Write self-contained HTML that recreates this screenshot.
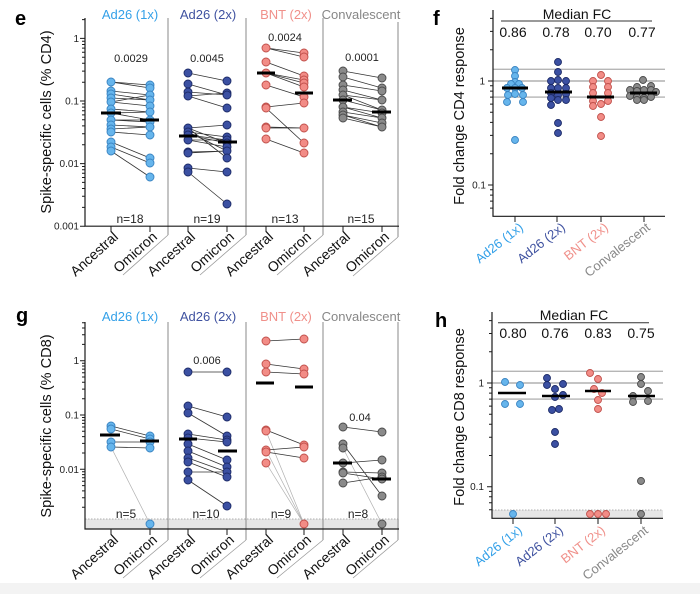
<!DOCTYPE html>
<html><head><meta charset="utf-8"><style>
html,body{margin:0;padding:0;background:#fff;}
svg{display:block;font-family:"Liberation Sans",Arial,sans-serif;}
.ax{stroke:#1a1a1a;stroke-width:1.2;fill:none;}
.tk{stroke:#1a1a1a;stroke-width:1;fill:none;}
.sep{stroke:#8a8a8a;stroke-width:1;fill:none;}
.dg{stroke:#9a9a9a;stroke-width:0.8;fill:none;}
.ln{stroke:#333;stroke-width:0.8;fill:none;}
.lg{stroke:#b0b0b0;stroke-width:0.7;fill:none;}
.md{stroke:#000;stroke-width:3;}
.gl{stroke:#8a8a8a;stroke-width:0.9;}
.lb circle{fill:#66b5ec;stroke:#3a84c2;stroke-width:0.9;}
.db circle{fill:#3b50a2;stroke:#1d2b68;stroke-width:0.9;}
.sa circle{fill:#f28c86;stroke:#c0504b;stroke-width:0.9;}
.gr circle{fill:#8a8a8a;stroke:#4a4a4a;stroke-width:0.9;}
.t10{font-size:10px;fill:#222;}
.t11{font-size:11px;fill:#222;}
.t12{font-size:12px;fill:#222;}
.t13{font-size:13px;}
.t14{font-size:14px;fill:#111;}
.yl{font-size:14.6px;fill:#111;}
.pl{font-size:20px;font-weight:bold;fill:#000;}
</style></head><body>
<svg width="700" height="594" viewBox="0 0 700 594" xmlns="http://www.w3.org/2000/svg">
<rect x="0" y="0" width="700" height="594" fill="#fff"/>
<rect x="0" y="583" width="700" height="11" fill="#f3f3f3"/>

<!-- ================= PANEL E ================= -->
<text class="pl" x="15" y="25">e</text>
<text class="yl" transform="translate(51,122) rotate(-90)" text-anchor="middle">Spike-specific cells (% CD4)</text>
<!-- headers -->
<text class="t13" x="130" y="19" text-anchor="middle" fill="#33a0e8">Ad26 (1x)</text>
<text class="t13" x="208" y="19" text-anchor="middle" fill="#3f52a0">Ad26 (2x)</text>
<text class="t13" x="286" y="19" text-anchor="middle" fill="#f0908a">BNT (2x)</text>
<text class="t13" x="361" y="19" text-anchor="middle" fill="#878787">Convalescent</text>
<!-- separators -->
<path class="sep" d="M168,18V235 M246,18V235 M323,18V235 M398,22V237"/>
<path class="dg" d="M168,235L123,275 M246,235L200,275 M323,235L277,275 M398,237L353,276"/>
<!-- axes -->
<path class="ax" d="M85,18V226.2H399"/>
<path class="tk" d="M80,38.4H85 M80,101H85 M80,163.6H85 M80,226.2H85
M82,19.6H85
M82,82.2H85 M82,71.1H85 M82,63.3H85 M82,57.2H85 M82,52.3H85 M82,48.1H85 M82,44.5H85 M82,41.3H85
M82,144.8H85 M82,133.7H85 M82,125.9H85 M82,119.8H85 M82,114.9H85 M82,110.7H85 M82,107.1H85 M82,103.9H85
M82,207.4H85 M82,196.3H85 M82,188.5H85 M82,182.4H85 M82,177.5H85 M82,173.3H85 M82,169.7H85 M82,166.5H85
M111,226V232 M150,226V232 M188,226V232 M227,226V232 M266,226V232 M304,226V232 M343,226V232 M382,226V232"/>
<text class="t10" x="79" y="42" text-anchor="end">1</text>
<text class="t10" x="79" y="104.5" text-anchor="end">0.1</text>
<text class="t10" x="79" y="167" text-anchor="end">0.01</text>
<text class="t10" x="79" y="229.5" text-anchor="end">0.001</text>
<!-- x labels -->
<g class="t14">
<text transform="translate(119,238) rotate(-42)" text-anchor="end">Ancestral</text>
<text transform="translate(158,238) rotate(-42)" text-anchor="end">Omicron</text>
<text transform="translate(196,238) rotate(-42)" text-anchor="end">Ancestral</text>
<text transform="translate(235,238) rotate(-42)" text-anchor="end">Omicron</text>
<text transform="translate(274,238) rotate(-42)" text-anchor="end">Ancestral</text>
<text transform="translate(312,238) rotate(-42)" text-anchor="end">Omicron</text>
<text transform="translate(351,238) rotate(-42)" text-anchor="end">Ancestral</text>
<text transform="translate(390,238) rotate(-42)" text-anchor="end">Omicron</text>
</g>
<!-- p values & n -->
<text class="t11" x="131" y="62" text-anchor="middle">0.0029</text>
<text class="t11" x="207" y="62" text-anchor="middle">0.0045</text>
<text class="t11" x="285" y="41" text-anchor="middle">0.0024</text>
<text class="t11" x="362" y="61" text-anchor="middle">0.0001</text>
<text class="t12" x="130" y="223" text-anchor="middle">n=18</text>
<text class="t12" x="207" y="223" text-anchor="middle">n=19</text>
<text class="t12" x="285" y="223" text-anchor="middle">n=13</text>
<text class="t12" x="361" y="223" text-anchor="middle">n=15</text>
<!-- G1 lines -->
<path class="ln" d="M111,82L150,85 M111,82L150,88 M111,91L150,95 M111,94L150,100 M111,98L150,100 M111,102L150,106 M111,109L150,112 M111,113L150,120 M111,120L150,122 M111,125L150,127 M111,129L150,127 M111,132L150,135 M111,142L150,158 M111,147L150,163 M111,151L150,177 M111,120L150,120 M111,113L150,112 M111,102L150,95"/>
<g class="lb">
<circle cx="111" cy="82" r="4"/><circle cx="111" cy="91" r="4"/><circle cx="111" cy="94" r="4"/><circle cx="111" cy="98" r="4"/><circle cx="111" cy="102" r="4"/><circle cx="111" cy="109" r="4"/><circle cx="111" cy="113" r="4"/><circle cx="111" cy="120" r="4"/><circle cx="111" cy="125" r="4"/><circle cx="111" cy="129" r="4"/><circle cx="111" cy="132" r="4"/><circle cx="111" cy="142" r="4"/><circle cx="111" cy="147" r="4"/><circle cx="111" cy="151" r="4"/>
<circle cx="150" cy="85" r="4"/><circle cx="150" cy="88" r="4"/><circle cx="150" cy="95" r="4"/><circle cx="150" cy="100" r="4"/><circle cx="150" cy="106" r="4"/><circle cx="150" cy="112" r="4"/><circle cx="150" cy="120" r="4"/><circle cx="150" cy="122" r="4"/><circle cx="150" cy="127" r="4"/><circle cx="150" cy="135" r="4"/><circle cx="150" cy="158" r="4"/><circle cx="150" cy="163" r="4"/><circle cx="150" cy="177" r="4"/>
</g>
<path class="md" d="M101,113H121 M140,120H159"/>
<!-- G2 -->
<path class="ln" d="M188,73L227,81 M188,84L227,95 M188,92L227,95 M188,96L227,108 M188,128L227,125 M188,132L227,137 M188,135L227,140 M188,135L227,143 M188,140L227,147 M188,132L227,151 M188,128L227,158 M188,152L227,151 M188,153L227,151 M188,168L227,172 M188,172L227,204 M188,140L227,140 M188,128L227,143 M188,96L227,93"/>
<g class="db">
<circle cx="188" cy="73" r="4"/><circle cx="188" cy="84" r="4"/><circle cx="188" cy="92" r="4"/><circle cx="188" cy="96" r="4"/><circle cx="188" cy="128" r="4"/><circle cx="188" cy="132" r="4"/><circle cx="188" cy="135" r="4"/><circle cx="188" cy="140" r="4"/><circle cx="188" cy="152" r="4"/><circle cx="188" cy="153" r="4"/><circle cx="188" cy="168" r="4"/><circle cx="188" cy="172" r="4"/>
<circle cx="227" cy="81" r="4"/><circle cx="227" cy="93" r="4"/><circle cx="227" cy="95" r="4"/><circle cx="227" cy="108" r="4"/><circle cx="227" cy="125" r="4"/><circle cx="227" cy="137" r="4"/><circle cx="227" cy="140" r="4"/><circle cx="227" cy="143" r="4"/><circle cx="227" cy="147" r="4"/><circle cx="227" cy="151" r="4"/><circle cx="227" cy="158" r="4"/><circle cx="227" cy="172" r="4"/><circle cx="227" cy="204" r="4"/>
</g>
<path class="md" d="M179,136H197 M218,142H237"/>
<!-- G3 -->
<path class="ln" d="M266,48L304,53 M266,48L304,57 M266,62L304,76 M266,73L304,80 M266,73L304,83 M266,73L304,87 M266,85L304,97 M266,107L304,103 M266,108L304,143 M266,127L304,128 M266,128L304,128 M266,139L304,153"/>
<g class="sa">
<circle cx="266" cy="48" r="4"/><circle cx="266" cy="62" r="4"/><circle cx="266" cy="73" r="4"/><circle cx="266" cy="85" r="4"/><circle cx="266" cy="107" r="4"/><circle cx="266" cy="108" r="4"/><circle cx="266" cy="127" r="4"/><circle cx="266" cy="128" r="4"/><circle cx="266" cy="139" r="4"/>
<circle cx="304" cy="53" r="4"/><circle cx="304" cy="57" r="4"/><circle cx="304" cy="76" r="4"/><circle cx="304" cy="80" r="4"/><circle cx="304" cy="83" r="4"/><circle cx="304" cy="87" r="4"/><circle cx="304" cy="97" r="4"/><circle cx="304" cy="103" r="4"/><circle cx="304" cy="128" r="4"/><circle cx="304" cy="143" r="4"/><circle cx="304" cy="153" r="4"/>
</g>
<path class="md" d="M257,73H275 M295,93H313"/>
<!-- G4 -->
<path class="ln" d="M343,71L382,78 M343,77L382,88 M343,85L382,91 M343,90L382,100 M343,95L382,100 M343,100L382,110 M343,107L382,113 M343,112L382,118 M343,115L382,123 M343,118L382,127 M343,107L382,118 M343,95L382,110 M343,115L382,127"/>
<g class="gr">
<circle cx="343" cy="71" r="4"/><circle cx="343" cy="77" r="4"/><circle cx="343" cy="85" r="4"/><circle cx="343" cy="90" r="4"/><circle cx="343" cy="95" r="4"/><circle cx="343" cy="100" r="4"/><circle cx="343" cy="107" r="4"/><circle cx="343" cy="112" r="4"/><circle cx="343" cy="115" r="4"/><circle cx="343" cy="118" r="4"/>
<circle cx="382" cy="78" r="4"/><circle cx="382" cy="88" r="4"/><circle cx="382" cy="91" r="4"/><circle cx="382" cy="100" r="4"/><circle cx="382" cy="110" r="4"/><circle cx="382" cy="113" r="4"/><circle cx="382" cy="118" r="4"/><circle cx="382" cy="123" r="4"/><circle cx="382" cy="127" r="4"/>
</g>
<path class="md" d="M333,100H352 M372,112H391"/>

<!-- ================= PANEL F ================= -->
<text class="pl" x="433" y="25">f</text>
<text class="yl" transform="translate(464,116) rotate(-90)" text-anchor="middle">Fold change CD4 response</text>
<path class="gl" d="M493,69.2H665 M493,81H665 M493,97.1H665"/>
<path class="ax" d="M493,10V216.3H665"/>
<path class="tk" d="M488,81H493 M488,185H493
M490,49.7H493 M490,31.4H493 M490,18.4H493
M490,153.7H493 M490,135.4H493 M490,122.4H493 M490,112.3H493 M490,104.1H493 M490,97.1H493 M490,91.1H493 M490,85.8H493
M490,189.8H493 M490,195.1H493 M490,201.1H493 M490,208.1H493
M515,216V222 M557,216V222 M601,216V222 M644,216V222"/>
<text class="t10" x="485" y="84.5" text-anchor="end">1</text>
<text class="t10" x="486" y="188.5" text-anchor="end">0.1</text>
<text class="t14" x="577" y="19" text-anchor="middle">Median FC</text>
<path d="M501,21H652" stroke="#333" stroke-width="1"/>
<text class="t14" x="513" y="37" text-anchor="middle">0.86</text>
<text class="t14" x="556" y="37" text-anchor="middle">0.78</text>
<text class="t14" x="598" y="37" text-anchor="middle">0.70</text>
<text class="t14" x="642" y="37" text-anchor="middle">0.77</text>
<g class="t13">
<text transform="translate(524,229) rotate(-38)" text-anchor="end" fill="#33a0e8">Ad26 (1x)</text>
<text transform="translate(566,229) rotate(-38)" text-anchor="end" fill="#3f52a0">Ad26 (2x)</text>
<text transform="translate(609,229) rotate(-38)" text-anchor="end" fill="#f0908a">BNT (2x)</text>
<text transform="translate(651,229) rotate(-38)" text-anchor="end" fill="#878787">Convalescent</text>
</g>
<g class="lb">
<circle cx="515" cy="70" r="3.5"/><circle cx="515" cy="76" r="3.5"/><circle cx="515" cy="82" r="3.5"/><circle cx="511" cy="84" r="3.5"/><circle cx="519" cy="84" r="3.5"/><circle cx="507" cy="88" r="3.5"/><circle cx="515" cy="88" r="3.5"/><circle cx="522" cy="88" r="3.5"/><circle cx="508" cy="95" r="3.5"/><circle cx="515" cy="94" r="3.5"/><circle cx="523" cy="95" r="3.5"/><circle cx="507" cy="102" r="3.5"/><circle cx="523" cy="102" r="3.5"/><circle cx="515" cy="140" r="3.5"/>
</g>
<path class="md" d="M502,88H528"/>
<g class="db">
<circle cx="558" cy="62" r="3.5"/><circle cx="558" cy="72" r="3.5"/><circle cx="551" cy="81" r="3.5"/><circle cx="558" cy="80" r="3.5"/><circle cx="566" cy="81" r="3.5"/><circle cx="551" cy="88" r="3.5"/><circle cx="558" cy="88" r="3.5"/><circle cx="566" cy="88" r="3.5"/><circle cx="551" cy="93" r="3.5"/><circle cx="558" cy="95" r="3.5"/><circle cx="566" cy="94" r="3.5"/><circle cx="551" cy="98" r="3.5"/><circle cx="558" cy="100" r="3.5"/><circle cx="566" cy="100" r="3.5"/><circle cx="551" cy="105" r="3.5"/><circle cx="558" cy="123" r="3.5"/><circle cx="558" cy="133" r="3.5"/>
</g>
<path class="md" d="M545,92H572"/>
<g class="sa">
<circle cx="601" cy="75" r="3.5"/><circle cx="593" cy="81" r="3.5"/><circle cx="608" cy="81" r="3.5"/><circle cx="593" cy="87" r="3.5"/><circle cx="608" cy="87" r="3.5"/><circle cx="593" cy="93" r="3.5"/><circle cx="608" cy="93" r="3.5"/><circle cx="593" cy="101" r="3.5"/><circle cx="608" cy="101" r="3.5"/><circle cx="593" cy="106" r="3.5"/><circle cx="601" cy="104" r="3.5"/><circle cx="601" cy="117" r="3.5"/><circle cx="601" cy="136" r="3.5"/>
</g>
<path class="md" d="M587,97H614"/>
<g class="gr">
<circle cx="643" cy="80" r="3.5"/><circle cx="637" cy="87" r="3.5"/><circle cx="651" cy="86" r="3.5"/><circle cx="630" cy="90" r="3.5"/><circle cx="637" cy="91" r="3.5"/><circle cx="644" cy="90" r="3.5"/><circle cx="651" cy="90" r="3.5"/><circle cx="656" cy="92" r="3.5"/><circle cx="637" cy="97" r="3.5"/><circle cx="644" cy="98" r="3.5"/><circle cx="651" cy="97" r="3.5"/><circle cx="630" cy="96" r="3.5"/><circle cx="637" cy="100" r="3.5"/><circle cx="644" cy="100" r="3.5"/>
</g>
<path class="md" d="M630,93H657"/>

<!-- ================= PANEL G ================= -->
<text class="pl" x="16" y="322">g</text>
<text class="yl" transform="translate(51,426) rotate(-90)" text-anchor="middle">Spike-specific cells (% CD8)</text>
<text class="t13" x="130" y="321" text-anchor="middle" fill="#33a0e8">Ad26 (1x)</text>
<text class="t13" x="208" y="321" text-anchor="middle" fill="#3f52a0">Ad26 (2x)</text>
<text class="t13" x="286" y="321" text-anchor="middle" fill="#f0908a">BNT (2x)</text>
<text class="t13" x="361" y="321" text-anchor="middle" fill="#878787">Convalescent</text>
<!-- band -->
<rect x="85" y="519" width="314" height="10" fill="#e6e6e6"/>
<path d="M85,519H399" stroke="#999" stroke-width="0.8" stroke-dasharray="1.5,1.5"/>
<path class="sep" d="M168,322V540 M246,322V540 M323,322V540 M398,322V540"/>
<path class="dg" d="M168,540L123,578 M246,540L200,578 M323,540L277,578 M398,540L353,578"/>
<path class="ax" d="M85,322V529H399"/>
<path class="tk" d="M80,360.7H85 M80,415H85 M80,469.3H85
M82,344.4H85 M82,334.8H85 M82,328H85 M82,322.7H85
M82,398.7H85 M82,389.1H85 M82,382.3H85 M82,377H85 M82,372.7H85 M82,369.1H85 M82,366H85 M82,363.2H85
M82,453H85 M82,443.4H85 M82,436.6H85 M82,431.3H85 M82,427H85 M82,423.4H85 M82,420.3H85 M82,417.5H85
M82,507.3H85 M82,497.7H85 M82,490.9H85 M82,485.6H85 M82,481.3H85 M82,477.7H85 M82,474.6H85 M82,471.8H85
M111,529V535 M150,529V535 M188,529V535 M227,529V535 M266,529V535 M304,529V535 M343,529V535 M382,529V535"/>
<text class="t10" x="79" y="364" text-anchor="end">1</text>
<text class="t10" x="79" y="418.5" text-anchor="end">0.1</text>
<text class="t10" x="79" y="473" text-anchor="end">0.01</text>
<g class="t14">
<text transform="translate(119,541) rotate(-42)" text-anchor="end">Ancestral</text>
<text transform="translate(158,541) rotate(-42)" text-anchor="end">Omicron</text>
<text transform="translate(196,541) rotate(-42)" text-anchor="end">Ancestral</text>
<text transform="translate(235,541) rotate(-42)" text-anchor="end">Omicron</text>
<text transform="translate(274,541) rotate(-42)" text-anchor="end">Ancestral</text>
<text transform="translate(312,541) rotate(-42)" text-anchor="end">Omicron</text>
<text transform="translate(351,541) rotate(-42)" text-anchor="end">Ancestral</text>
<text transform="translate(390,541) rotate(-42)" text-anchor="end">Omicron</text>
</g>
<text class="t11" x="207" y="364" text-anchor="middle">0.006</text>
<text class="t11" x="360" y="421" text-anchor="middle">0.04</text>
<text class="t12" x="126" y="518" text-anchor="middle">n=5</text>
<text class="t12" x="206" y="518" text-anchor="middle">n=10</text>
<text class="t12" x="281" y="518" text-anchor="middle">n=9</text>
<text class="t12" x="358" y="518" text-anchor="middle">n=8</text>
<!-- G1 -->
<path class="lg" d="M111,447L150,524"/>
<path class="ln" d="M111,426L150,436 M111,429L150,439 M111,442L150,442 M111,447L150,448"/>
<g class="lb">
<circle cx="111" cy="426" r="4"/><circle cx="111" cy="429" r="4"/><circle cx="111" cy="442" r="4"/><circle cx="111" cy="447" r="4"/>
<circle cx="150" cy="436" r="4"/><circle cx="150" cy="439" r="4"/><circle cx="150" cy="442" r="4"/><circle cx="150" cy="448" r="4"/><circle cx="150" cy="524" r="4"/>
</g>
<path class="md" d="M100,435H120 M140,441H159"/>
<!-- G2 -->
<path class="ln" d="M188,372L227,372 M188,406L227,417 M188,413L227,436 M188,434L227,440 M188,438L227,442 M188,444L227,460 M188,451L227,467 M188,458L227,472 M188,462L227,477 M188,472L227,472 M188,480L227,506"/>
<g class="db">
<circle cx="188" cy="372" r="4"/><circle cx="188" cy="406" r="4"/><circle cx="188" cy="413" r="4"/><circle cx="188" cy="434" r="4"/><circle cx="188" cy="438" r="4"/><circle cx="188" cy="444" r="4"/><circle cx="188" cy="451" r="4"/><circle cx="188" cy="458" r="4"/><circle cx="188" cy="462" r="4"/><circle cx="188" cy="472" r="4"/><circle cx="188" cy="480" r="4"/>
<circle cx="227" cy="372" r="4"/><circle cx="227" cy="417" r="4"/><circle cx="227" cy="436" r="4"/><circle cx="227" cy="440" r="4"/><circle cx="227" cy="442" r="4"/><circle cx="227" cy="460" r="4"/><circle cx="227" cy="467" r="4"/><circle cx="227" cy="472" r="4"/><circle cx="227" cy="477" r="4"/><circle cx="227" cy="506" r="4"/>
</g>
<path class="md" d="M179,439H197 M218,451H237"/>
<!-- G3 -->
<path class="lg" d="M266,431L304,524 M266,450L304,524 M266,463L304,524"/>
<path class="ln" d="M266,341L304,339 M266,364L304,369 M266,372L304,374 M266,430L304,445 M266,450L304,447 M266,452L304,458"/>
<g class="sa">
<circle cx="266" cy="341" r="4"/><circle cx="266" cy="364" r="4"/><circle cx="266" cy="372" r="4"/><circle cx="266" cy="430" r="4"/><circle cx="266" cy="431" r="4"/><circle cx="266" cy="450" r="4"/><circle cx="266" cy="452" r="4"/><circle cx="266" cy="463" r="4"/>
<circle cx="304" cy="339" r="4"/><circle cx="304" cy="369" r="4"/><circle cx="304" cy="374" r="4"/><circle cx="304" cy="445" r="4"/><circle cx="304" cy="447" r="4"/><circle cx="304" cy="458" r="4"/><circle cx="304" cy="524" r="4"/>
</g>
<path class="md" d="M256,383H274 M295,387H313"/>
<!-- G4 -->
<path class="lg" d="M343,448L382,524"/>
<path class="ln" d="M343,427L382,432 M343,444L382,496 M343,463L382,460 M343,472L382,473 M343,473L382,479 M343,483L382,477"/>
<g class="gr">
<circle cx="343" cy="427" r="4"/><circle cx="343" cy="444" r="4"/><circle cx="343" cy="448" r="4"/><circle cx="343" cy="463" r="4"/><circle cx="343" cy="472" r="4"/><circle cx="343" cy="473" r="4"/><circle cx="343" cy="483" r="4"/>
<circle cx="382" cy="432" r="4"/><circle cx="382" cy="460" r="4"/><circle cx="382" cy="473" r="4"/><circle cx="382" cy="477" r="4"/><circle cx="382" cy="479" r="4"/><circle cx="382" cy="496" r="4"/><circle cx="382" cy="524" r="4"/>
</g>
<path class="md" d="M333,463H352 M372,479H391"/>

<!-- ================= PANEL H ================= -->
<text class="pl" x="435" y="327">h</text>
<text class="yl" transform="translate(464,417) rotate(-90)" text-anchor="middle">Fold change CD8 response</text>
<rect x="492" y="510" width="171" height="8" fill="#e6e6e6"/>
<path d="M492,510H663" stroke="#999" stroke-width="0.8" stroke-dasharray="1.5,1.5"/>
<path class="gl" d="M492,371.2H663 M492,383H663 M492,399.1H663"/>
<path class="ax" d="M492,312V518.3H663"/>
<path class="tk" d="M487,383H492 M487,486.7H492
M489,351.8H492 M489,333.5H492 M489,320.6H492
M489,455.5H492 M489,437.2H492 M489,424.3H492 M489,414.2H492 M489,406.1H492 M489,399.1H492 M489,393.1H492 M489,387.8H492
M489,491.4H492 M489,496.8H492 M489,502.8H492 M489,509.7H492
M513,518V524 M555,518V524 M598,518V524 M641,518V524"/>
<text class="t10" x="484" y="386.5" text-anchor="end">1</text>
<text class="t10" x="484" y="490" text-anchor="end">0.1</text>
<text class="t14" x="574" y="320" text-anchor="middle">Median FC</text>
<path d="M498,322.7H649" stroke="#333" stroke-width="1"/>
<text class="t14" x="513" y="338" text-anchor="middle">0.80</text>
<text class="t14" x="555" y="338" text-anchor="middle">0.76</text>
<text class="t14" x="598" y="338" text-anchor="middle">0.83</text>
<text class="t14" x="641" y="338" text-anchor="middle">0.75</text>
<g class="t13">
<text transform="translate(523,532) rotate(-38)" text-anchor="end" fill="#33a0e8">Ad26 (1x)</text>
<text transform="translate(564,532) rotate(-38)" text-anchor="end" fill="#3f52a0">Ad26 (2x)</text>
<text transform="translate(606,532) rotate(-38)" text-anchor="end" fill="#f0908a">BNT (2x)</text>
<text transform="translate(649,532) rotate(-38)" text-anchor="end" fill="#878787">Convalescent</text>
</g>
<g class="lb">
<circle cx="505" cy="382" r="3.5"/><circle cx="520" cy="385" r="3.5"/><circle cx="505" cy="404" r="3.5"/><circle cx="520" cy="404" r="3.5"/><circle cx="513" cy="514" r="3.5"/>
</g>
<path class="md" d="M498,393H526" style="stroke-width:2.5"/>
<g class="db">
<circle cx="547" cy="378" r="3.5"/><circle cx="547" cy="385" r="3.5"/><circle cx="555" cy="389" r="3.5"/><circle cx="563" cy="384" r="3.5"/><circle cx="555" cy="397" r="3.5"/><circle cx="563" cy="395" r="3.5"/><circle cx="552" cy="410" r="3.5"/><circle cx="559" cy="409" r="3.5"/><circle cx="555" cy="432" r="3.5"/><circle cx="555" cy="444" r="3.5"/>
</g>
<path class="md" d="M542,396H570" style="stroke-width:2.5"/>
<g class="sa">
<circle cx="590" cy="373" r="3.5"/><circle cx="598" cy="379" r="3.5"/><circle cx="594" cy="389" r="3.5"/><circle cx="602" cy="393" r="3.5"/><circle cx="598" cy="400" r="3.5"/><circle cx="598" cy="409" r="3.5"/><circle cx="590" cy="514" r="3.5"/><circle cx="598" cy="514" r="3.5"/><circle cx="606" cy="514" r="3.5"/>
</g>
<path class="md" d="M585,391H611" style="stroke-width:2.5"/>
<g class="gr">
<circle cx="641" cy="377" r="3.5"/><circle cx="641" cy="384" r="3.5"/><circle cx="633" cy="396" r="3.5"/><circle cx="648" cy="391" r="3.5"/><circle cx="633" cy="402" r="3.5"/><circle cx="648" cy="401" r="3.5"/><circle cx="641" cy="481" r="3.5"/><circle cx="641" cy="514" r="3.5"/>
</g>
<path class="md" d="M628,396H655" style="stroke-width:2.5"/>
</svg>
</body></html>
